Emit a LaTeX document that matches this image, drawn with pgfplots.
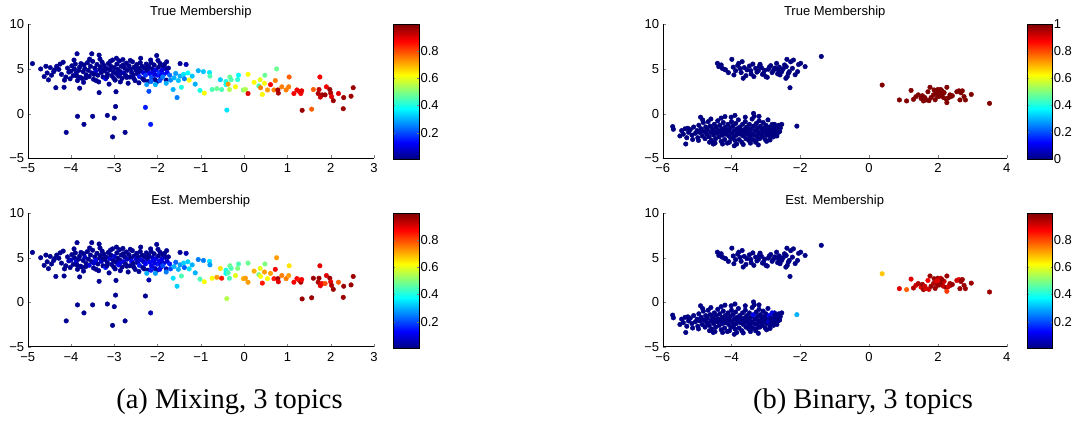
\documentclass[border=0pt]{standalone}
\usepackage{fontspec}
\setmainfont{Liberation Sans}
\newfontfamily\capfont{Liberation Serif}
\usepackage{pgfplots}
\usepackage{pgfplotstable}
\pgfplotsset{compat=1.18}

\pgfplotstableread{
x y ct ce
-4.62 4.15 .02 .02
-4.55 4.55 .02 .02
-4.52 3.78 .02 .02
-4.48 5.15 .02 .02
-4.40 4.70 .02 .03
-4.33 5.30 .02 .02
-4.28 4.95 .02 .02
-4.22 4.40 .02 .02
-4.18 5.75 .02 .02
-4.12 4.10 .02 .02
-4.08 5.10 .02 .02
-4.05 4.65 .02 .05
-4.02 3.90 .02 .02
-3.98 5.35 .02 .02
-3.95 4.25 .02 .02
-3.92 5.00 .02 .02
-3.90 5.55 .02 .02
-3.88 4.55 .03 .08
-3.85 3.70 .02 .02
-3.82 4.85 .02 .02
-3.80 5.20 .02 .02
-3.78 4.05 .02 .02
-3.75 3.95 .02 .02
-3.72 4.70 .02 .02
-3.70 5.45 .02 .02
-3.68 5.05 .02 .06
-3.65 4.35 .02 .02
-3.62 5.70 .02 .02
-3.60 4.85 .02 .02
-3.58 4.15 .02 .10
-3.55 5.30 .02 .02
-3.52 4.55 .02 .02
-3.50 5.85 .02 .02
-3.48 3.85 .02 .02
-3.45 5.10 .02 .02
-3.43 4.70 .08 .12
-3.40 5.50 .02 .02
-3.38 4.30 .02 .02
-3.36 3.55 .02 .02
-3.34 4.95 .02 .02
-3.32 5.25 .02 .02
-3.30 4.60 .02 .08
-3.28 5.75 .02 .02
-3.26 4.10 .02 .02
-3.24 5.40 .02 .02
-3.22 4.80 .02 .02
-3.20 3.90 .10 .15
-3.18 5.05 .02 .02
-3.16 4.45 .02 .02
-3.14 5.60 .02 .02
-3.12 3.30 .02 .02
-3.10 4.90 .02 .10
-3.08 5.30 .02 .02
-3.06 4.25 .02 .02
-3.04 6.00 .02 .02
-3.02 4.70 .02 .02
-3.00 5.15 .02 .08
-2.98 3.75 .02 .02
-2.96 4.50 .02 .02
-2.94 5.55 .02 .02
-2.92 4.95 .02 .02
-2.90 4.20 .02 .12
-2.88 5.90 .02 .02
-2.86 4.70 .02 .02
-2.84 5.30 .02 .02
-2.82 3.95 .02 .02
-2.80 6.05 .02 .02
-2.78 4.55 .06 .10
-2.76 5.10 .02 .02
-2.74 4.30 .02 .02
-2.72 5.65 .02 .02
-2.70 4.85 .02 .06
-2.68 3.40 .02 .02
-2.66 5.35 .02 .02
-2.64 4.10 .02 .02
-2.62 5.00 .02 .02
-2.60 4.60 .02 .12
-2.58 5.80 .02 .02
-2.56 4.35 .02 .02
-2.54 5.20 .02 .02
-2.52 3.70 .02 .02
-2.50 4.90 .02 .08
-2.48 5.50 .02 .02
-2.46 4.45 .02 .02
-2.44 5.05 .02 .02
-2.42 4.15 .15 .15
-2.40 5.70 .02 .02
-2.38 4.75 .02 .10
-2.36 5.30 .02 .02
-2.34 3.90 .02 .02
-2.32 4.55 .10 .06
-2.30 5.10 .02 .02
-2.28 4.30 .18 .12
-2.26 5.55 .02 .02
-2.24 4.80 .04 .10
-2.22 3.60 .02 .02
-2.20 5.25 .02 .02
-2.18 4.50 .12 .12
-2.16 6.00 .02 .02
-2.14 4.05 .20 .10
-2.12 5.00 .02 .06
-2.10 4.65 .08 .12
-2.08 5.45 .02 .02
-2.06 3.80 .02 .08
-2.04 4.90 .10 .10
-2.02 6.50 .02 .02
-2.00 4.30 .15 .15
-1.98 5.20 .02 .02
-1.96 4.60 .18 .12
-1.94 5.60 .02 .02
-1.92 3.95 .02 .05
-1.90 4.85 .10 .10
-1.88 5.35 .02 .02
-1.86 4.40 .15 .10
-1.82 5.05 .05 .05
-1.80 3.75 .02 .05
-1.78 4.60 .12 .08
-1.75 5.10 .02 .02
-4.45 4.30 .02 .02
-4.38 4.90 .02 .02
-4.25 5.55 .02 .02
-4.15 3.75 .02 .02
-4.00 4.75 .02 .06
-3.93 6.00 .02 .02
-3.86 4.20 .02 .02
-3.77 5.60 .02 .02
-3.66 4.00 .02 .02
-3.57 6.10 .02 .02
-3.47 4.40 .02 .08
-3.42 3.70 .02 .02
-3.33 6.10 .02 .02
-3.25 4.90 .02 .02
-3.17 4.10 .02 .02
-3.09 5.85 .02 .02
-3.01 3.95 .02 .02
-2.95 6.20 .02 .02
-2.87 4.40 .04 .10
-2.79 5.45 .02 .02
-2.71 4.05 .02 .02
-2.63 5.95 .02 .02
-2.55 3.95 .02 .02
-2.47 4.70 .02 .06
-2.39 6.20 .02 .02
-2.31 3.75 .02 .02
-2.23 5.00 .02 .02
-2.15 5.70 .02 .02
-2.07 4.40 .10 .10
-1.99 5.95 .02 .02
-1.91 4.30 .12 .08
-1.84 5.50 .02 .02
-2.01 3.60 .02 .02
-4.70 5.00 .02 .02
-4.58 5.30 .02 .02
-3.71 3.50 .02 .02
-2.86 3.55 .02 .02
-2.43 3.45 .02 .02
-3.86 6.70 .02 .02
-3.52 6.70 .02 .02
-3.35 6.55 .02 .02
-1.79 5.80 .02 .02
-1.48 5.60 .02 .02
-1.34 5.50 .05 .05
-4.89 5.60 .02 .02
-4.35 2.90 .02 .02
-4.16 2.95 .02 .02
-4.11 -2.10 .02 .02
-3.85 -0.30 .02 .02
-3.80 2.85 .02 .02
-3.70 -1.20 .02 .02
-3.50 -0.30 .02 .02
-3.35 2.35 .02 .02
-3.16 -0.20 .02 .02
-3.00 -0.50 .02 .02
-2.97 0.80 .02 .02
-2.96 2.45 .02 .02
-3.04 -2.60 .02 .02
-2.75 -2.10 .02 .02
-2.28 0.70 .15 .02
-2.16 -1.20 .15 .05
-2.20 2.50 .20 .05
-1.55 1.80 .25 .33
-1.64 2.70 .30 .35
-2.25 3.25 .28 .30
-2.15 3.60 .22 .15
-2.05 3.25 .30 .28
-1.95 3.70 .20 .12
-1.88 4.10 .25 .20
-1.80 3.40 .30 .25
-1.72 4.30 .22 .15
-1.70 3.75 .26 .20
-1.62 4.00 .30 .30
-1.58 4.50 .28 .22
-1.52 3.70 .32 .30
-1.48 4.20 .30 .28
-1.45 2.95 .40 .45
-1.40 4.40 .35 .33
-1.38 3.90 .25 .22
-1.30 4.55 .38 .33
-1.27 3.75 .62 .35
-1.20 4.20 .32 .30
-1.13 3.30 .30 .30
-1.06 4.80 .30 .25
-1.02 2.60 .40 .45
-0.94 4.70 .32 .25
-0.92 2.30 .62 .62
-0.80 4.60 .35 .35
-0.79 4.20 .45 .28
-0.74 2.70 .45 .62
-0.63 2.80 .48 .72
-0.55 3.80 .33 .65
-0.52 2.70 .45 .85
-0.42 3.60 .40 .40
-0.42 3.25 .38 .38
-0.40 0.40 .35 .55
-0.37 3.30 .72 .45
-0.33 4.10 .48 .48
-0.30 3.80 .45 .45
-0.34 2.70 .55 .45
-0.20 3.00 .62 .60
-0.15 3.80 .42 .50
-0.13 4.30 .38 .45
-0.02 2.65 .52 .70
0.03 2.70 .55 .72
0.09 4.40 .62 .48
0.09 2.25 .90 .72
0.23 3.50 .62 .70
0.34 3.10 .45 .50
0.37 3.80 .60 .60
0.38 2.90 .75 .62
0.42 2.15 .63 .85
0.48 4.30 .48 .50
0.47 3.40 .62 .72
0.54 2.65 .72 .62
0.61 3.25 .88 .72
0.69 2.65 .75 .85
0.72 3.70 .75 .88
0.75 5.00 .48 .72
0.78 2.65 .95 .95
0.79 2.30 .95 .90
0.87 3.00 .75 .75
0.97 2.65 .75 .75
1.04 4.10 .78 .65
1.03 3.00 .75 .72
1.15 2.25 .88 .88
1.22 2.65 .88 .88
1.27 2.50 .88 .85
1.31 2.25 .88 .95
1.33 2.55 .90 .88
1.34 0.37 .97 .97
1.56 0.50 .78 .97
1.60 2.70 .78 .97
1.73 2.70 .93 .97
1.75 4.10 .88 .90
1.71 2.25 .95 .95
1.76 1.85 .92 .90
1.80 2.10 .95 .88
1.90 3.00 .88 .90
1.87 2.10 .97 .80
1.98 2.70 .97 .97
2.00 2.30 .95 .90
2.02 1.90 .90 .95
2.06 1.45 .97 .97
2.18 2.25 .90 .78
2.29 0.55 .97 .97
2.30 1.80 .97 .97
2.47 1.95 .97 .97
2.52 2.90 .97 .97
}\lefttab

\pgfplotstableread{
x y ct ce
-4.41 5.63 0 .01
-4.37 5.26 0 .01
-4.30 5.45 0 .01
-4.27 5.07 0 .01
-4.20 4.95 0 .01
-4.17 4.89 0 .01
-4.09 4.59 0 .01
-3.99 6.08 0 .01
-3.95 5.20 0 .01
-3.93 4.33 0 .01
-3.88 4.80 0 .01
-3.82 5.40 0 .01
-3.79 5.63 0 .01
-3.75 5.04 0 .01
-3.72 4.60 0 .01
-3.69 5.82 0 .01
-3.66 3.96 0 .01
-3.63 5.15 0 .01
-3.58 4.25 0 .01
-3.55 4.90 0 .01
-3.48 5.33 0 .01
-3.44 4.81 0 .01
-3.43 4.44 0 .01
-3.38 5.55 0 .01
-3.35 4.15 0 .01
-3.30 5.07 0 .01
-3.26 4.65 0 .01
-3.22 4.81 0 .01
-3.19 5.30 0 .01
-3.17 5.52 0 .01
-3.13 5.15 0 .01
-3.10 4.40 0 .01
-3.07 4.51 0 .01
-3.04 4.85 0 .01
-3.00 4.14 0 .01
-2.96 4.07 0 .01
-2.93 4.96 0 .01
-2.90 5.20 0 .01
-2.86 5.37 0 .01
-2.82 4.60 0 .01
-2.78 4.85 0 .01
-2.74 5.10 0 .01
-2.69 5.63 0 .01
-2.66 4.45 0 .01
-2.64 4.89 0 .01
-2.61 5.20 0 .01
-2.59 4.33 0 .01
-2.54 4.70 0 .01
-2.50 5.00 0 .01
-2.46 5.45 0 .01
-2.42 3.95 0 .01
-2.41 5.26 0 .01
-2.39 6.08 0 .01
-2.38 4.14 0 .01
-2.35 4.50 0 .01
-2.32 4.70 0 .01
-2.30 2.90 0 .01
-2.28 5.80 0 .01
-2.23 5.07 0 .01
-2.20 6.00 0 .01
-2.15 4.35 0 .01
-2.08 4.70 0 .01
-2.05 5.50 0 .01
-1.99 5.63 0 .01
-1.86 5.26 0 .01
-1.39 6.40 0 .01
-5.71 -1.45 0 .01
-5.69 -1.75 0 .01
-5.33 -3.40 0 .01
-5.27 -1.64 0 .01
-5.25 -2.10 0 .01
-5.13 -2.90 0 .01
-4.90 -0.40 0 .01
-4.53 -3.40 0 .01
-4.19 -0.33 0 .01
-4.01 -0.40 0 .01
-3.92 -3.60 0 .01
-3.36 0.03 0 .01
-3.34 -0.30 0 .01
-3.22 -3.50 0 .01
-2.98 -3.10 0 .01
-2.88 -2.95 0 .01
-2.75 -1.20 0 .05
-2.54 -1.20 0 .01
-5.20 -1.80 0 .01
-5.15 -2.40 0 .01
-5.10 -1.50 0 .01
-5.05 -2.20 0 .01
-5.00 -1.90 0 .01
-4.98 -2.70 0 .01
-4.95 -1.30 0 .01
-4.92 -2.10 0 .01
-4.88 -1.70 0 .01
-4.85 -2.50 0 .01
-4.82 -1.00 0 .01
-4.80 -2.00 0 .01
-4.77 -2.80 0 .01
-4.75 -1.50 0 .01
-4.72 -2.30 0 .01
-4.70 -1.80 0 .01
-4.68 -0.90 0 .01
-4.65 -2.60 0 .01
-4.62 -1.40 0 .01
-4.60 -2.10 0 .01
-4.58 -3.00 0 .01
-4.55 -1.70 0 .01
-4.52 -2.40 0 .01
-4.50 -1.20 0 .01
-4.48 -2.00 0 .01
-4.46 -2.80 0 .01
-4.44 -1.50 0 .01
-4.42 -2.20 0 .01
-4.40 -0.80 0 .01
-4.38 -1.90 0 .01
-4.36 -2.60 0 .01
-4.34 -1.30 0 .01
-4.32 -2.10 0 .01
-4.30 -3.10 0 .01
-4.28 -1.70 0 .01
-4.26 -2.40 0 .01
-4.24 -1.00 0 .01
-4.22 -2.00 0 .01
-4.20 -2.90 0 .01
-4.18 -1.50 0 .01
-4.16 -2.30 0 .01
-4.14 -1.80 0 .01
-4.12 -3.30 0 .01
-4.10 -1.20 0 .01
-4.08 -2.50 0 .01
-4.06 -2.00 0 .01
-4.04 -1.60 0 .01
-4.02 -2.80 0 .01
-4.00 -0.90 0 .01
-3.98 -2.20 0 .01
-3.96 -1.40 0 .01
-3.94 -2.60 0 .01
-3.92 -1.90 0 .01
-3.90 -3.00 0 .01
-3.88 -1.10 0 .01
-3.86 -2.40 0 .01
-3.84 -1.70 0 .01
-3.82 -2.10 0 .01
-3.80 -0.70 0 .01
-3.78 -2.90 0 .01
-3.76 -1.50 0 .01
-3.74 -2.30 0 .01
-3.72 -1.90 0 .01
-3.70 -3.20 0 .01
-3.68 -1.20 0 .01
-3.66 -2.50 0 .01
-3.64 -1.80 0 .01
-3.62 -2.10 0 .01
-3.60 -0.90 0 .01
-3.58 -2.80 0 .01
-3.56 -1.50 0 .01
-3.54 -2.30 0 .01
-3.52 -1.90 0 .01
-3.50 -3.00 0 .01
-3.48 -1.20 0 .01
-3.46 -2.60 0 .01
-3.44 -1.70 0 .01
-3.42 -2.20 0 .01
-3.40 -0.60 0 .01
-3.38 -2.90 0 .01
-3.36 -1.40 0 .12
-3.34 -2.40 0 .01
-3.32 -1.90 0 .01
-3.30 -3.20 0 .01
-3.28 -1.10 0 .01
-3.26 -2.50 0 .01
-3.24 -1.60 0 .01
-3.22 -2.10 0 .01
-3.20 -0.80 0 .01
-3.18 -2.80 0 .01
-3.16 -1.40 0 .01
-3.14 -2.30 0 .01
-3.12 -1.80 0 .01
-3.10 -2.60 0 .01
-3.08 -1.00 0 .01
-3.06 -2.10 0 .01
-3.04 -1.60 0 .01
-3.02 -2.90 0 .01
-3.00 -1.30 0 .01
-2.98 -2.40 0 .01
-2.96 -1.90 0 .01
-2.94 -0.70 0 .01
-2.92 -2.20 0 .08
-2.90 -1.50 0 .12
-2.88 -2.70 0 .01
-2.86 -1.80 0 .01
-2.84 -2.30 0 .01
-2.82 -1.20 0 .10
-2.80 -2.00 0 .01
-2.78 -2.60 0 .01
-2.76 -1.60 0 .01
-2.74 -2.20 0 .01
-2.72 -1.40 0 .01
-2.70 -1.90 0 .01
-2.68 -2.50 0 .01
-2.66 -1.70 0 .01
-2.64 -2.10 0 .01
-2.62 -1.30 0 .01
-2.60 -2.00 0 .01
-2.58 -1.60 0 .01
-5.40 -2.30 0 .01
-5.35 -1.70 0 .01
-5.30 -2.70 0 .01
-5.45 -1.90 0 .01
-5.50 -2.50 0 .01
-4.96 -3.00 0 .01
-4.64 -3.20 0 .01
-4.48 -3.30 0 .01
-4.26 -3.40 0 .01
-4.06 -3.20 0 .01
-3.85 -3.40 0 .01
-3.66 -3.45 0 .01
-3.45 -3.30 0 .01
-3.28 -3.00 0 .01
-4.60 -0.60 0 .01
-4.30 -0.50 0 .01
-3.90 -0.20 0 .01
-3.60 -0.40 0 .01
-3.20 -0.30 0 .01
-4.84 -0.70 0 .01
-2.10 -1.40 0 .30
0.38 3.20 1 .68
0.88 1.53 1 .90
1.09 1.42 1 .78
1.22 2.60 1 .90
1.29 1.60 1 .95
1.36 1.90 1 .92
1.43 2.10 1 .95
1.51 1.70 1 .90
1.58 1.42 1 .97
1.65 1.53 1 .90
1.74 1.45 1 .92
1.71 2.45 1 .88
1.77 2.95 1 .97
1.80 1.80 1 .97
1.89 2.65 1 .97
1.95 2.30 1 .92
2.00 2.70 1 .97
1.87 2.10 1 .95
1.99 1.90 1 .97
2.06 2.45 1 .90
2.11 2.10 1 .97
2.08 2.70 1 .92
2.26 2.95 1 .97
2.16 1.80 1 .92
2.24 1.64 1 .97
2.26 1.23 1 .82
2.35 2.10 1 .97
2.37 1.90 1 .97
2.30 1.75 1 .92
2.61 2.55 1 .90
2.67 2.33 1 .97
2.71 2.55 1 .97
2.64 1.53 1 .97
2.76 1.90 1 .97
2.80 1.53 1 .97
2.97 2.15 1 .97
3.50 1.15 1 .97
1.55 2.00 1 .97
1.62 1.80 1 .92
1.92 1.55 1 .97
2.05 1.95 1 .97
2.18 2.35 1 .92
2.42 2.00 1 .97
2.55 2.45 1 .92
2.12 2.55 1 .97
1.97 2.40 1 .90
}\righttab

\pgfplotsset{
  mstyle/.style={
    scale only axis,
    anchor=south west,
    axis x line*=bottom, axis y line*=left,
    tick align=inside,
    major tick length=3pt,
    ymin=-5, ymax=10, ytick={-5,0,5,10}, yticklabels={−5,0,5,10},
    tick label style={font=\fontsize{13}{15}\selectfont},
    xticklabel style={yshift=-2pt},
    title style={font=\fontsize{13}{15}\selectfont, at={(0.5,1)}, anchor=base, yshift=2.5pt},
    colormap/jet,
    colorbar,
    colorbar/width=26pt,
  },
  sc/.style={scatter, only marks, mark=*, mark size=2.3pt,
      scatter src=explicit,
      scatter/use mapped color={draw=mapped color, fill=mapped color}},
  lcb/.style={colorbar style={at={(parent axis.north east)}, anchor=north west,
      xshift=10.8pt, height=135pt,
      ytick={0.2,0.4,0.6,0.8}, yticklabels={0.2,0.4,0.6,0.8},
      tick align=inside, major tick length=2pt,
      yticklabel style={font=\fontsize{13}{15}\selectfont, inner sep=1pt}}},
  rcb/.style={colorbar style={at={(parent axis.north east)}, anchor=north west,
      xshift=12pt, height=135pt,
      ytick={#1}, yticklabels={#1},
      tick align=inside, major tick length=2pt,
      yticklabel style={font=\fontsize{13}{15}\selectfont, inner sep=1pt}}},
}

\begin{document}
\begin{tikzpicture}
\path[use as bounding box] (0,0) rectangle (1075pt,422pt);

% left top
\begin{axis}[mstyle, lcb, at={(27.7pt,263.7pt)}, width=346.3pt, height=134pt,
  xmin=-5, xmax=3, xtick={-5,...,3}, xticklabels={−5,−4,−3,−2,−1,0,1,2,3},
  title={True Membership}, point meta min=0.004, point meta max=0.996]
\addplot[sc] table[x=x, y=y, meta=ct] {\lefttab};
\end{axis}

% left bottom
\begin{axis}[mstyle, lcb, at={(27.7pt,75.3pt)}, width=346.3pt, height=133.4pt,
  xmin=-5, xmax=3, xtick={-5,...,3}, xticklabels={−5,−4,−3,−2,−1,0,1,2,3},
  title={Est. Membership}, point meta min=0.004, point meta max=0.996]
\addplot[sc] table[x=x, y=y, meta=ce] {\lefttab};
\end{axis}

% right top
\begin{axis}[mstyle, rcb={0,0.2,0.4,0.6,0.8,1}, colorbar/width=25.4pt, at={(662.7pt,263.7pt)}, width=344pt, height=134pt,
  xmin=-6, xmax=4, xtick={-6,-4,...,4}, xticklabels={−6,−4,−2,0,2,4},
  title={True Membership}, point meta min=0, point meta max=1]
\addplot[sc] table[x=x, y=y, meta=ct] {\righttab};
\end{axis}

% right bottom
\begin{axis}[mstyle, rcb={0.2,0.4,0.6,0.8}, colorbar/width=25.4pt, at={(662.7pt,75.3pt)}, width=344pt, height=133.4pt,
  xmin=-6, xmax=4, xtick={-6,-4,...,4}, xticklabels={−6,−4,−2,0,2,4},
  title={Est. Membership}, point meta min=0.004, point meta max=0.996]
\addplot[sc] table[x=x, y=y, meta=ce] {\righttab};
\end{axis}

\node[anchor=base, inner sep=0pt, font=\capfont\fontsize{28.5}{32}\selectfont] at (229.5pt,13pt) {(a) Mixing, 3 topics};
\node[anchor=base, inner sep=0pt, font=\capfont\fontsize{28.5}{32}\selectfont] at (863pt,13pt) {(b) Binary, 3 topics};
\end{tikzpicture}
\end{document}
